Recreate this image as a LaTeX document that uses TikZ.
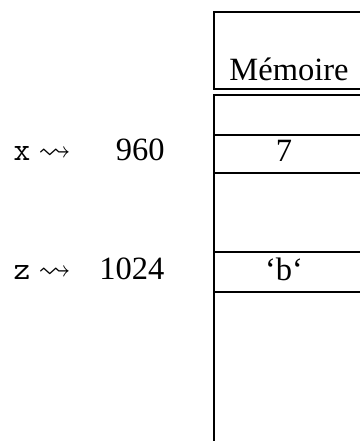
\documentclass[tikz,border=0pt]{standalone}
\usepackage{amssymb}
\usepackage{fontspec}
\setmainfont{Liberation Serif}
\usetikzlibrary{positioning}

\begin{document}
\begin{tikzpicture}[x=0.4pt,y=-0.4pt,
    mur/.style={line width=1pt,draw=black},
    txt/.style={inner sep=0pt,font=\fontsize{13}{15}\selectfont},
    val/.style={txt,anchor=base},
    addr/.style={txt,anchor=base east},
    var/.style={txt,anchor=base west}]
  \useasboundingbox (0,0) rectangle (360,441);
  \clip (0,0) rectangle (360,441);
  % memoire
  \draw[mur] (400,12) -- (214,12) -- (214,89) -- (400,89);
  \draw[mur] (400,95) -- (214,95) -- (214,450);
  \foreach \y in {135,173,252,292}
    \draw[mur] (214,\y) -- (400,\y);
  \node[val] (titre) at (289,80) {Mémoire};
  \node[val] (sept) at (284,161) {7};
  \node[val] (carb) at (284,280) {‘b‘};
  % variables
  \node[addr] (adx) at (165,160) {960};
  \node[addr] (adz) at (165,279) {1024};
  \node[var] (vx) at (13,160) {\texttt{x} $\leadsto$};
  \node[var] (vz) at (13,279) {\texttt{z} $\leadsto$};
\end{tikzpicture}
\end{document}
